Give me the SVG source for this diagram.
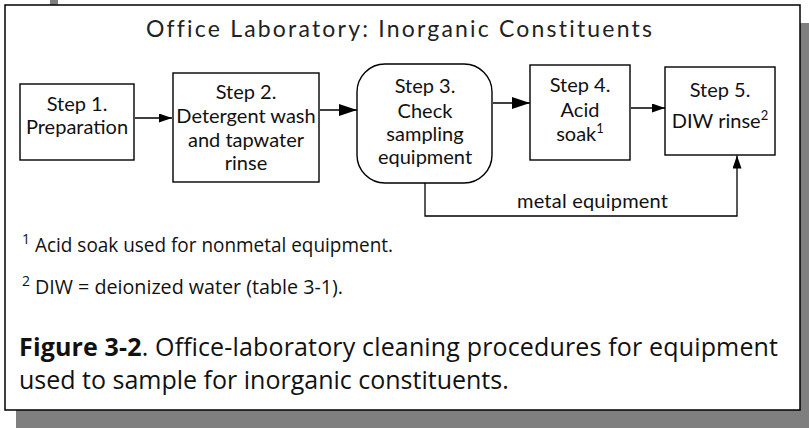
<svg xmlns="http://www.w3.org/2000/svg" width="809" height="428" viewBox="0 0 809 428">
<style>
.shadow{fill:#7f7f7f}
.frame{fill:#fff;stroke:#000;stroke-width:1.5}
.box{fill:#fff;stroke:#000;stroke-width:1.4}
.lbl{font-family:Lato,"Open Sans","DejaVu Sans",sans-serif;font-size:20px;fill:#111;text-anchor:middle}
.title{font-family:Lato,"Open Sans","DejaVu Sans",sans-serif;font-size:23px;letter-spacing:1px;fill:#222;text-anchor:middle}
.sup{font-size:13px}
.conn{fill:none;stroke:#000;stroke-width:1.3}
.note{font-family:"Open Sans","DejaVu Sans",sans-serif;font-size:20px;fill:#111}
.cap{font-family:"Open Sans","DejaVu Sans",sans-serif;font-size:25px;fill:#111}
</style>
<defs>
<marker id="ahS" viewBox="0 0 13 9" refX="13" refY="4.5" markerWidth="13" markerHeight="9" markerUnits="userSpaceOnUse" orient="auto"><path d="M0,0 L13,4.5 L0,9 z" fill="#000"/></marker>
<marker id="ahL" viewBox="0 0 18 12" refX="18" refY="6" markerWidth="18" markerHeight="12" markerUnits="userSpaceOnUse" orient="auto"><path d="M0,0 L18,6 L0,12 z" fill="#000"/></marker>
</defs>
<g id="background">
<rect class="shadow" x="50" y="0" width="8" height="6"/>
<rect class="shadow" x="16" y="23" width="793" height="405"/>
<rect class="frame" x="5" y="5" width="795" height="405"/>
<text class="title" x="399.5" y="37" textLength="507">Office Laboratory: Inorganic Constituents</text>
</g>
<g id="connectors">
<line class="conn" x1="135" y1="118" x2="172" y2="118" marker-end="url(#ahS)"/>
<line class="conn" x1="320" y1="110" x2="357" y2="110" marker-end="url(#ahL)"/>
<line class="conn" x1="493" y1="103" x2="530" y2="103" marker-end="url(#ahL)"/>
<line class="conn" x1="631" y1="108" x2="665" y2="108" marker-end="url(#ahS)"/>
<path class="conn" d="M425,183 V216 H737 V155.5" marker-end="url(#ahS)"/>
<text class="lbl" x="592.5" y="208" textLength="151">metal equipment</text>
</g>
<g id="step1">
<rect class="box" x="20" y="84" width="114" height="76"/>
<text class="lbl" x="77" y="111">Step 1.</text>
<text class="lbl" x="77" y="134">Preparation</text>
</g>
<g id="step2">
<rect class="box" x="173" y="73" width="146" height="109"/>
<text class="lbl" x="246" y="99">Step 2.</text>
<text class="lbl" x="246" y="123">Detergent wash</text>
<text class="lbl" x="246" y="147">and tapwater</text>
<text class="lbl" x="246" y="170">rinse</text>
</g>
<g id="step3">
<rect class="box" x="357" y="64" width="135" height="119" rx="28" ry="28"/>
<text class="lbl" x="425" y="93">Step 3.</text>
<text class="lbl" x="425" y="118">Check</text>
<text class="lbl" x="425" y="141">sampling</text>
<text class="lbl" x="425" y="164">equipment</text>
</g>
<g id="step4">
<rect class="box" x="530" y="65" width="100" height="95"/>
<text class="lbl" x="580" y="92">Step 4.</text>
<text class="lbl" x="580" y="117">Acid</text>
<text class="lbl" x="580" y="141">soak<tspan class="sup" dy="-8">1</tspan></text>
</g>
<g id="step5">
<rect class="box" x="665" y="67" width="110" height="88"/>
<text class="lbl" x="720" y="97">Step 5.</text>
<text class="lbl" x="720" y="128">DIW rinse<tspan class="sup" dy="-8">2</tspan></text>
</g>
<g id="notes">
<text class="note" x="22" y="244" style="font-size:14px">1</text>
<text class="note" x="35" y="252" textLength="358" lengthAdjust="spacingAndGlyphs">Acid soak used for nonmetal equipment.</text>
<text class="note" x="22" y="286" style="font-size:14px">2</text>
<text class="note" x="35" y="294" textLength="308" lengthAdjust="spacingAndGlyphs">DIW = deionized water (table 3-1).</text>
<text class="cap" x="19" y="356" textLength="759"><tspan font-weight="bold">Figure 3-2</tspan>. Office-laboratory cleaning procedures for equipment</text>
<text class="cap" x="19" y="389">used to sample for inorganic constituents.</text>
</g>
</svg>
